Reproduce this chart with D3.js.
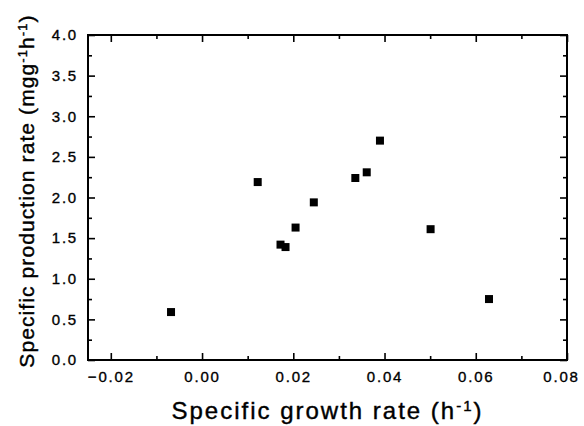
<!DOCTYPE html>
<html>
<head>
<meta charset="utf-8">
<script src="https://cdn.jsdelivr.net/npm/d3@7"></script>
<style>
  body { margin: 0; background: #fff; }
  svg { display: block; font-family: "Liberation Sans", Arial, sans-serif; }
</style>
</head>
<body>
<div id="chart"></div>
<script>
// data
const growthRate = [-0.0068, 0.0122, 0.0172, 0.0183, 0.0205, 0.0245, 0.0336, 0.0361, 0.0390, 0.0501, 0.0629];
const productionRate = [0.59, 2.19, 1.42, 1.39, 1.63, 1.94, 2.24, 2.31, 2.70, 1.61, 0.75];
const xTicks = [-0.02, 0.00, 0.02, 0.04, 0.06, 0.08];
const xMinor = [-0.01, 0.01, 0.03, 0.05, 0.07];
const yTicks = [0.0, 0.5, 1.0, 1.5, 2.0, 2.5, 3.0, 3.5, 4.0];
const yMinor = [0.25, 0.75, 1.25, 1.75, 2.25, 2.75, 3.25, 3.75];

const width = 584, height = 426;
const margin = {top: 35, right: 17, bottom: 66, left: 88};

const svg = d3.select("#chart").append("svg")
    .attr("width", width)
    .attr("height", height);

const x = d3.scaleLinear().domain([-0.025, 0.08]).range([margin.left, width - margin.right]);
const y = d3.scaleLinear().domain([0, 4]).range([height - margin.bottom, margin.top]);

const x0 = margin.left, x1 = width - margin.right;
const y0 = height - margin.bottom, y1 = margin.top;

// axes on all four sides, ticks pointing inward
function styleAxis(g) {
    g.select(".domain").remove();
    g.selectAll(".tick line").attr("stroke", "#000").attr("stroke-width", 1.6);
    g.selectAll(".tick text")
        .attr("fill", "#000")
        .attr("stroke", "#000")
        .attr("stroke-width", 0.35)
        .attr("font-size", 15)
        .attr("letter-spacing", "1.8px");
}

const bottomAxis = svg.append("g").attr("transform", `translate(0,${y0})`)
    .call(d3.axisBottom(x).tickValues(xTicks).tickSize(-7).tickPadding(11).tickFormat(d3.format(".2f")))
    .call(styleAxis);
// last label sits a little left of its tick so it stays on the page
bottomAxis.selectAll(".tick text").filter(d => d === 0.08).attr("dx", -6);

svg.append("g").attr("transform", `translate(0,${y0})`)
    .call(d3.axisBottom(x).tickValues(xMinor).tickSize(-4).tickFormat(""))
    .call(styleAxis);
svg.append("g").attr("transform", `translate(0,${y1})`)
    .call(d3.axisTop(x).tickValues(xTicks).tickSize(-7).tickFormat(""))
    .call(styleAxis);
svg.append("g").attr("transform", `translate(0,${y1})`)
    .call(d3.axisTop(x).tickValues(xMinor).tickSize(-4).tickFormat(""))
    .call(styleAxis);

svg.append("g").attr("transform", `translate(${x0},0)`)
    .call(d3.axisLeft(y).tickValues(yTicks).tickSize(-7).tickPadding(10).tickFormat(d3.format(".1f")))
    .call(styleAxis);
svg.append("g").attr("transform", `translate(${x0},0)`)
    .call(d3.axisLeft(y).tickValues(yMinor).tickSize(-4).tickFormat(""))
    .call(styleAxis);
svg.append("g").attr("transform", `translate(${x1},0)`)
    .call(d3.axisRight(y).tickValues(yTicks).tickSize(-7).tickFormat(""))
    .call(styleAxis);
svg.append("g").attr("transform", `translate(${x1},0)`)
    .call(d3.axisRight(y).tickValues(yMinor).tickSize(-4).tickFormat(""))
    .call(styleAxis);

// frame
svg.append("rect")
    .attr("x", x0).attr("y", y1)
    .attr("width", x1 - x0).attr("height", y0 - y1)
    .attr("fill", "none")
    .attr("stroke", "#000")
    .attr("stroke-width", 2);

// points
svg.append("g")
    .selectAll("rect")
    .data(growthRate.map((g, i) => [g, productionRate[i]]))
    .join("rect")
    .attr("x", d => x(d[0]) - 4)
    .attr("y", d => y(d[1]) - 4)
    .attr("width", 8)
    .attr("height", 8)
    .attr("fill", "#000");

// axis titles
const xt = svg.append("text")
    .attr("x", (x0 + x1) / 2)
    .attr("y", 419)
    .attr("text-anchor", "middle")
    .attr("font-size", 24)
    .attr("letter-spacing", "2px")
    .attr("fill", "#000")
    .attr("stroke", "#000")
    .attr("stroke-width", 0.4);
xt.append("tspan").text("Specific growth rate (h");
xt.append("tspan").attr("baseline-shift", "super").attr("font-size", 15).text("-1");
xt.append("tspan").text(")");

const yt = svg.append("text")
    .attr("transform", `translate(34,191) rotate(-90)`)
    .attr("text-anchor", "middle")
    .attr("font-size", 21)
    .attr("letter-spacing", "1.1px")
    .attr("fill", "#000")
    .attr("stroke", "#000")
    .attr("stroke-width", 0.4);
yt.append("tspan").text("Specific production rate (mgg");
yt.append("tspan").attr("baseline-shift", "super").attr("font-size", 13).text("-1");
yt.append("tspan").text("h");
yt.append("tspan").attr("baseline-shift", "super").attr("font-size", 13).text("-1");
yt.append("tspan").text(")");
</script>
</body>
</html>
